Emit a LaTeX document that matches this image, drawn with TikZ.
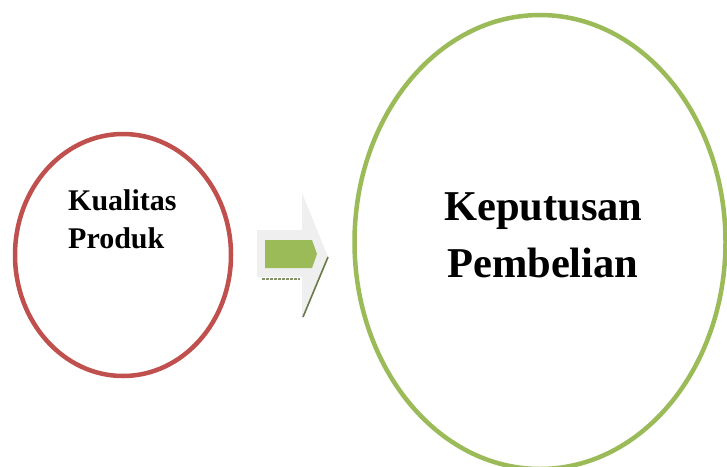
\documentclass[tikz,border=0pt]{standalone}
\usepackage{fontspec}
\setmainfont{Liberation Serif}
\usetikzlibrary{shapes.geometric}
\definecolor{redring}{HTML}{C0504D}
\definecolor{greenring}{HTML}{9BBB59}
\definecolor{darkgreen}{HTML}{4F6228}
\definecolor{paleface}{HTML}{EFEFEF}
\tikzset{
  ring/.style={ellipse, draw, line width=4.5pt, inner sep=0pt, fill=white},
  smalltext/.style={inner sep=0pt, anchor=base west, font=\fontsize{30}{38}\selectfont\bfseries},
  bigtext/.style={inner sep=0pt, anchor=base west, font=\fontsize{42.5}{57}\selectfont\bfseries},
}
\begin{document}
\begin{tikzpicture}[x=1pt,y=-1pt]
\useasboundingbox (0,0) rectangle (727,466);
\clip (0,0) rectangle (727,466);
\fill[white] (0,0) rectangle (727,466);
% left ring
\node[ring, draw=redring, minimum width=216pt, minimum height=242pt] (kp) at (123,255) {};
\node[smalltext] (k1) at (68,210) {Kualitas};
\node[smalltext] (k2) at (68,248) {Produk};
% right ring
\node[ring, draw=greenring, minimum width=371pt, minimum height=454pt] (kb) at (540,242) {};
\node[bigtext] (b1) at (444,220) {Keputusan};
\node[bigtext] (b2) at (447,277) {Pembelian};
% arrow
\fill[paleface] (257,230) -- (302,230) -- (302,193) -- (328,257) -- (302,317) -- (302,277) -- (257,277) -- cycle;
\draw[darkgreen!85, line width=1.6pt] (328,257) -- (303,317);
\fill[greenring] (265,240) -- (312,240) -- (317,254) -- (312,268) -- (265,268) -- cycle;
\draw[darkgreen!70, line width=1.5pt, dash pattern=on 3pt off 1pt] (262,279) -- (300,279);
\end{tikzpicture}
\end{document}
